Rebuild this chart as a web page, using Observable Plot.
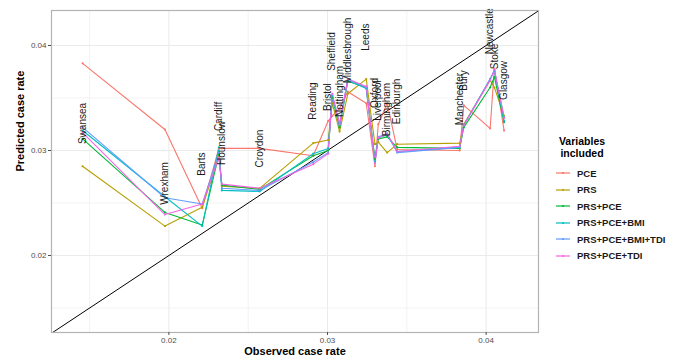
<!DOCTYPE html>
<html>
<head>
<meta charset="utf-8">
<script src="https://cdn.jsdelivr.net/npm/d3@7"></script>
<script src="https://cdn.jsdelivr.net/npm/@observablehq/plot@0.6"></script>
<style>
  html, body { margin: 0; padding: 0; background: #fff; }
  #wrap { position: relative; width: 676px; height: 360px; font-family: "Liberation Sans", Arial, sans-serif; }
  #legend { position: absolute; left: 553px; top: 135px; font-family: "Liberation Sans", Arial, sans-serif; }
  #legend .title { font-weight: bold; font-size: 10.5px; line-height: 12px; text-align: center; width: 58px; color: #000; margin-bottom: 6px; }
  #legend .item { display: flex; align-items: center; height: 16.5px; font-size: 9.5px; font-weight: bold; color: #1a1a1a; }
  #legend svg { margin-left: 3px; margin-right: 7px; }
</style>
</head>
<body>
<div id="wrap"><div id="legend"></div></div>
<script>
const cities = ["Swansea","Wrexham","Barts","Cardiff","Hounslow","Croydon","Reading","Bristol","Sheffield","Nottingham","Middlesbrough","Leeds","Oxford","Liverpool","Birmingham","Edinburgh","Manchester","Bury","Newcastle","Stoke","Glasgow"];
const observed = [0.01456,0.01975,0.0221,0.02315,0.02334,0.02572,0.0291,0.03004,0.0303,0.03076,0.03128,0.03244,0.03299,0.0332,0.03376,0.03439,0.03833,0.03859,0.04025,0.04052,0.04113];
const models = ["PCE","PRS","PRS+PCE","PRS+PCE+BMI","PRS+PCE+BMI+TDI","PRS+PCE+TDI"];
const colors = ["#F8766D","#B79F00","#00BA38","#00BFC4","#619CFF","#F564E3"];
const predPCE        = [0.0383,0.0320,0.0245,0.0302,0.0302,0.0302,0.0295,0.0328,0.0333,0.0340,0.0356,0.0345,0.0285,0.0325,0.0345,0.0301,0.0300,0.0343,0.0321,0.0378,0.0319];
const predPRS        = [0.0285,0.0228,0.0246,0.0294,0.0266,0.0264,0.0307,0.0310,0.0345,0.0318,0.0354,0.0368,0.0306,0.0308,0.0298,0.0306,0.0307,0.0325,0.0367,0.0360,0.0333];
const predPRSPCE     = [0.0311,0.0241,0.0229,0.0296,0.0267,0.0263,0.0295,0.0300,0.0350,0.0322,0.0366,0.0360,0.0292,0.0311,0.0313,0.0303,0.0302,0.0322,0.0360,0.0370,0.0327];
const predPRSPCEBMI  = [0.0319,0.0256,0.0228,0.0303,0.0262,0.0261,0.0297,0.0302,0.0352,0.0324,0.0367,0.0359,0.0290,0.0312,0.0315,0.0299,0.0303,0.0324,0.0368,0.0376,0.0328];
const predPRSPCEBMITDI = [0.0322,0.0255,0.0249,0.0298,0.0264,0.0262,0.0289,0.0298,0.0353,0.0325,0.0368,0.0360,0.0288,0.0313,0.0316,0.0298,0.0303,0.0324,0.0368,0.0376,0.0332];
const predPRSPCETDI  = [0.0317,0.0239,0.0249,0.0293,0.0268,0.0264,0.0287,0.0297,0.0354,0.0325,0.0368,0.0361,0.0288,0.0312,0.0316,0.0299,0.0304,0.0324,0.0367,0.0377,0.0331];
const labelY = [0.03257,0.02686,0.02871,0.03324,0.03071,0.03019,0.03471,0.03508,0.03943,0.03562,0.03952,0.04079,0.03548,0.03476,0.0339,0.03467,0.0349,0.03667,0.04136,0.03895,0.03667];
const xDomain = [0.0126, 0.0433];
const yDomain = [0.01267, 0.04333];
const majorTicks = [0.02, 0.03, 0.04];
const minorTicks = [0.015, 0.025, 0.035];

const series = [predPCE, predPRS, predPRSPCE, predPRSPCEBMI, predPRSPCEBMITDI, predPRSPCETDI];
const rows = [];
models.forEach((m, i) => series[i].forEach((v, j) => rows.push({model: m, obs: observed[j], pred: v})));
const labels = cities.map((c, j) => ({city: c, obs: observed[j], ly: labelY[j]}));
const identity = xDomain.map(v => ({x: v, y: v}));

const chart = Plot.plot({
  width: 676, height: 360,
  marginLeft: 51, marginRight: 138, marginTop: 10, marginBottom: 28,
  style: {fontFamily: "Liberation Sans, Arial, sans-serif", color: "#4d4d4d", background: "transparent"},
  x: {domain: xDomain},
  y: {domain: yDomain},
  color: {domain: models, range: colors},
  marks: [
    Plot.gridX(minorTicks, {stroke: "#ebebeb", strokeOpacity: 1, strokeWidth: 0.6}),
    Plot.gridY(minorTicks, {stroke: "#ebebeb", strokeOpacity: 1, strokeWidth: 0.6}),
    Plot.gridX(majorTicks, {stroke: "#ebebeb", strokeOpacity: 1, strokeWidth: 1.1}),
    Plot.gridY(majorTicks, {stroke: "#ebebeb", strokeOpacity: 1, strokeWidth: 1.1}),
    Plot.line(identity, {x: "x", y: "y", stroke: "#000", strokeWidth: 1, clip: true}),
    Plot.line(rows, {x: "obs", y: "pred", z: "model", stroke: "model", strokeWidth: 1.1}),
    Plot.dot(rows, {x: "obs", y: "pred", fill: "model", r: 1.1}),
    Plot.text(labels, {x: "obs", y: "ly", text: "city", rotate: -90, fontSize: 10, fill: "#1a1a1a"}),
    Plot.frame({stroke: "#b3b3b3", strokeWidth: 1.2}),
    Plot.axisX(majorTicks, {tickFormat: d => d.toFixed(2), label: null, fontSize: 8, tickSize: 3, tickPadding: 2}),
    Plot.axisY(majorTicks, {tickFormat: d => d.toFixed(2), label: null, fontSize: 8, tickSize: 3, tickPadding: 2}),
    Plot.text(["Observed case rate"], {frameAnchor: "bottom", dy: 22, fontSize: 11, fontWeight: "bold", fill: "#000"}),
    Plot.text(["Predicted case rate"], {frameAnchor: "left", dx: -31, rotate: -90, fontSize: 11, fontWeight: "bold", fill: "#000"})
  ]
});
document.getElementById("wrap").prepend(chart);

const legend = document.getElementById("legend");
const t = document.createElement("div");
t.className = "title";
t.innerHTML = "Variables<br>included";
legend.appendChild(t);
models.forEach((m, i) => {
  const it = document.createElement("div");
  it.className = "item";
  it.innerHTML = `<svg width="14" height="8"><line x1="0" y1="4" x2="14" y2="4" stroke="${colors[i]}" stroke-width="1.2"/><circle cx="7" cy="4" r="1.1" fill="${colors[i]}"/></svg><span>${m}</span>`;
  legend.appendChild(it);
});
</script>
</body>
</html>
